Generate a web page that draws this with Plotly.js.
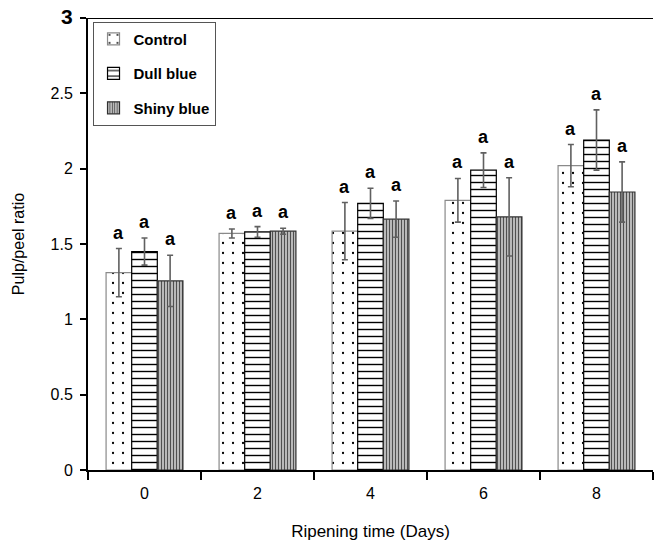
<!DOCTYPE html>
<html>
<head>
<meta charset="utf-8">
<script src="https://cdn.plot.ly/plotly-3.0.1.min.js"></script>
<style>html,body{margin:0;padding:0;background:#fff;}#chart{width:654px;height:546px;}</style>
</head>
<body>
<div id="chart"></div>
<script>
var days = ['0', '2', '4', '6', '8'];
var seriesNames = ['Control', 'Dull blue', 'Shiny blue'];
var control = [1.31, 1.57, 1.585, 1.79, 2.02];
var controlErr = [0.16, 0.03, 0.19, 0.145, 0.14];
var dull = [1.45, 1.58, 1.77, 1.99, 2.19];
var dullErr = [0.09, 0.035, 0.10, 0.115, 0.20];
var shiny = [1.255, 1.585, 1.665, 1.68, 1.845];
var shinyErr = [0.17, 0.02, 0.12, 0.26, 0.20];
var controlLetters = ['a', 'a', 'a', 'a', 'a'];
var dullLetters = ['a', 'a', 'a', 'a', 'a'];
var shinyLetters = ['a', 'a', 'a', 'a', 'a'];
var yTickVals = [0, 0.5, 1, 1.5, 2, 2.5, 3];
var yTickText = ['0', '0.5', '1', '1.5', '2', '2.5', '<b><span style="font-size:21px">3</span></b>'];

var narrow = '"Liberation Sans", Arial, sans-serif';
var sans = '"Liberation Sans", Arial, sans-serif';

function errStyle(arr) {
  return {type: 'data', array: arr, visible: true, color: '#606060', thickness: 1.6, width: 3};
}

var traces = [
  {
    type: 'bar', name: seriesNames[0], x: days, y: control, legendgroup: 'g1',
    error_y: errStyle(controlErr),
    marker: {color: '#ffffff', line: {color: '#8a8a8a', width: 1.2},
      pattern: {shape: '.', fgcolor: '#000000', bgcolor: '#ffffff', size: 10, solidity: 0.04}}
  },
  {
    type: 'bar', name: seriesNames[1], x: days, y: dull, legendgroup: 'g2',
    error_y: errStyle(dullErr),
    marker: {color: '#ffffff', line: {color: '#000000', width: 1.2},
      pattern: {shape: '-', fgcolor: '#000000', bgcolor: '#ffffff', size: 7, solidity: 0.2}}
  },
  {
    type: 'bar', name: seriesNames[2], x: days, y: shiny, legendgroup: 'g3',
    error_y: errStyle(shinyErr),
    marker: {color: '#ffffff', line: {color: '#303030', width: 1.2},
      pattern: {shape: '|', fgcolor: '#505050', bgcolor: '#ffffff', size: 3, solidity: 0.6}}
  }
];

var annotations = [];
var groups = [[control, controlErr, controlLetters, -1], [dull, dullErr, dullLetters, 0], [shiny, shinyErr, shinyLetters, 1]];
var barPx = 25.6;
groups.forEach(function (g) {
  for (var i = 0; i < days.length; i++) {
    annotations.push({
      x: i, y: g[0][i] + g[1][i], xref: 'x', yref: 'y',
      text: '<b>' + g[2][i] + '</b>', showarrow: false,
      xshift: g[3] * barPx, yshift: 4, yanchor: 'bottom', xanchor: 'center',
      font: {family: narrow, size: 18, color: '#000'}
    });
  }
});

var layout = {
  width: 654, height: 546,
  margin: {l: 88, r: 1, t: 18, b: 76},
  paper_bgcolor: '#ffffff', plot_bgcolor: '#ffffff',
  barmode: 'group', bargap: 0.32, bargroupgap: 0,
  showlegend: true,
  legend: {
    x: 0.008, y: 0.992, xanchor: 'left', yanchor: 'top',
    bgcolor: '#ffffff', bordercolor: '#555555', borderwidth: 1,
    font: {family: narrow, size: 15, color: '#000', weight: 'bold'},
    itemwidth: 30, tracegroupgap: 12
  },
  xaxis: {
    type: 'category',
    showline: true, linecolor: '#000', linewidth: 2,
    ticks: 'outside', tickson: 'boundaries', ticklen: 8, tickwidth: 2, tickcolor: '#000',
    tickfont: {family: sans, size: 16, color: '#000'},
    ticklabelstandoff: 8,
    title: {text: 'Ripening time (Days)', font: {family: sans, size: 17, color: '#000'}, standoff: 24},
    showgrid: false, zeroline: false
  },
  yaxis: {
    range: [0, 3], tickvals: yTickVals, ticktext: yTickText,
    showline: true, linecolor: '#000', linewidth: 2,
    ticks: 'outside', ticklen: 6, tickwidth: 2, tickcolor: '#000',
    tickfont: {family: sans, size: 16, color: '#000'},
    ticklabelstandoff: 4,
    title: {text: 'Pulp/peel ratio', font: {family: sans, size: 16, color: '#000'}, standoff: 22},
    showgrid: false, zeroline: false
  },
  shapes: [
    {type: 'line', xref: 'paper', yref: 'y', x0: 0, x1: 1, y0: 3, y1: 3, line: {color: '#000', width: 2}}
  ],
  annotations: annotations
};

Plotly.newPlot('chart', traces, layout, {displayModeBar: false, staticPlot: true});
</script>
</body>
</html>
